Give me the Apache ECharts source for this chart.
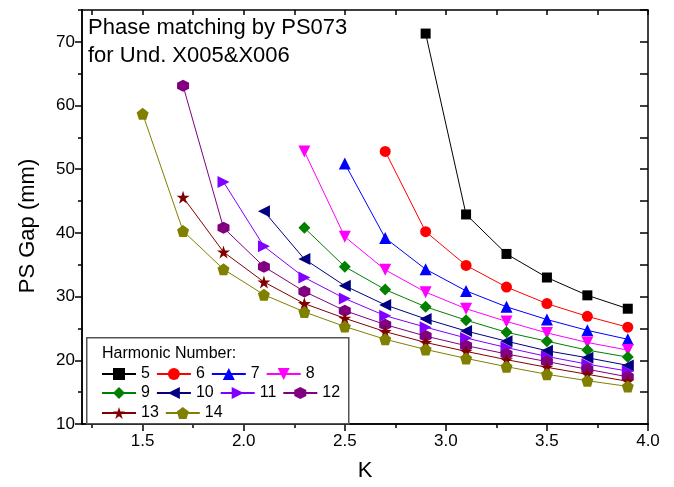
<!DOCTYPE html>
<html>
<head>
<meta charset="utf-8">
<script src="https://cdn.jsdelivr.net/npm/echarts@6/dist/echarts.min.js"></script>
<style>html,body{margin:0;padding:0;background:#fff}#c{width:674px;height:487px}</style>
</head>
<body>
<div id="c"></div>
<script>
// ---- data ----
const kValues = [1.5, 1.7, 1.9, 2.1, 2.3, 2.5, 2.7, 2.9, 3.1, 3.3, 3.5, 3.7, 3.9];
const harmonics = ['5', '6', '7', '8', '9', '10', '11', '12', '13', '14'];
// each series ends at K = 3.9; values listed from its first K
const gap5  = [71.3, 42.9, 36.7, 33.0, 30.2, 28.1];
const gap6  = [52.8, 40.2, 34.9, 31.5, 28.9, 26.9, 25.2];
const gap7  = [50.9, 39.2, 34.3, 30.9, 28.4, 26.4, 24.7, 23.3];
const gap8  = [52.8, 39.4, 34.2, 30.7, 28.1, 26.1, 24.3, 22.8, 21.6];
const gap9  = [40.8, 34.7, 31.1, 28.4, 26.3, 24.4, 23.0, 21.6, 20.5];
const gap10 = [43.4, 35.9, 31.7, 28.7, 26.5, 24.6, 23.0, 21.5, 20.4, 19.2];
const gap11 = [48.0, 37.9, 33.0, 29.7, 27.0, 25.2, 23.5, 22.0, 20.6, 19.4, 18.3];
const gap12 = [63.1, 40.8, 34.7, 30.8, 27.8, 25.6, 23.8, 22.3, 21.0, 19.8, 18.6, 17.4];
const gap13 = [45.6, 37.0, 32.3, 28.9, 26.6, 24.5, 22.8, 21.4, 20.1, 18.9, 17.8, 16.7];
const gap14 = [58.7, 40.3, 34.3, 30.3, 27.6, 25.3, 23.3, 21.7, 20.3, 19.0, 17.8, 16.8, 15.9];
const gapSeries = [gap5, gap6, gap7, gap8, gap9, gap10, gap11, gap12, gap13, gap14];
const xMajorTicks = [1.5, 2.0, 2.5, 3.0, 3.5, 4.0];
const xMinorTicks = [1.25, 1.75, 2.25, 2.75, 3.25, 3.75];
const yMajorTicks = [10, 20, 30, 40, 50, 60, 70];
const yMinorTicks = [15, 25, 35, 45, 55, 65, 75];

// ---- styles ----
const colors = ['#000000', '#ff0000', '#0000ff', '#ff00ff', '#008000', '#000080', '#8000ff', '#800080', '#800000', '#808000'];
const star = 'path://M0,-1 L0.2245,-0.309 L0.951,-0.309 L0.363,0.118 L0.588,0.809 L0,0.382 L-0.588,0.809 L-0.363,0.118 L-0.951,-0.309 L-0.2245,-0.309 Z';
const pent = 'path://M0,-1 L0.951,-0.309 L0.588,0.809 L-0.588,0.809 L-0.951,-0.309 Z';
const hexa = 'path://M0,-1 L0.866,-0.5 L0.866,0.5 L0,1 L-0.866,0.5 L-0.866,-0.5 Z';
const diam = 'path://M0,-1 L1,0 L0,1 L-1,0 Z';
const symbols = ['rect', 'circle', 'triangle', 'triangle', diam, 'triangle', 'triangle', hexa, star, pent];
const rotates = [0, 0, 0, 180, 0, 90, -90, 0, 0, 0];
const sizes = [10, 11, 12, 12, 12, 12, 12, 12, 13, 12];

const FONT = 'Liberation Sans, Arial, sans-serif';
const XMIN = 1.2, XMAX = 4.0, YMIN = 10, YMAX = 75;

const series = gapSeries.map((arr, i) => {
  const ks = kValues.slice(kValues.length - arr.length);
  return {
    name: harmonics[i],
    type: 'line',
    xAxisIndex: 0, yAxisIndex: 0,
    data: ks.map((k, j) => [k, arr[j]]),
    symbol: symbols[i],
    symbolRotate: rotates[i],
    symbolSize: sizes[i],
    showAllSymbol: true,
    lineStyle: {color: colors[i], width: 1},
    itemStyle: {color: colors[i]},
    z: 2 + i,
    animation: false
  };
});

function baseX(extra) {
  return Object.assign({
    type: 'value', min: XMIN, max: XMAX, gridIndex: 0,
    splitLine: {show: false},
    axisLine: {show: true, onZero: false, lineStyle: {color: '#000', width: 1.5}},
    axisLabel: {show: false},
    axisTick: {show: false}
  }, extra);
}
function baseY(extra) {
  return Object.assign({
    type: 'value', min: YMIN, max: YMAX, gridIndex: 0,
    splitLine: {show: false},
    axisLine: {show: true, onZero: false, lineStyle: {color: '#000', width: 1.5}},
    axisLabel: {show: false},
    axisTick: {show: false}
  }, extra);
}

const option = {
  animation: false,
  backgroundColor: '#fff',
  grid: {left: 82, right: 26, top: 10, bottom: 61, containLabel: false},
  xAxis: [
    baseX({position: 'bottom', name: 'K', nameLocation: 'middle', nameGap: 36,
      nameTextStyle: {fontFamily: FONT, fontSize: 22, color: '#000'},
      axisTick: {show: true, inside: false, length: 7, customValues: xMajorTicks, lineStyle: {color: '#000', width: 1.5}},
      axisLabel: {show: true, customValues: xMajorTicks, margin: 9, fontFamily: FONT, fontSize: 17, color: '#000',
        formatter: v => v.toFixed(1)}}),
    baseX({position: 'bottom',
      axisTick: {show: true, inside: false, length: 4, customValues: xMinorTicks, lineStyle: {color: '#000', width: 1.5}}}),
    baseX({position: 'top',
      axisTick: {show: true, inside: true, length: 5, customValues: xMajorTicks.concat(xMinorTicks), lineStyle: {color: '#000', width: 1.5}}})
  ],
  yAxis: [
    baseY({position: 'left', name: 'PS Gap (mm)', nameLocation: 'middle', nameGap: 43, nameRotate: 90,
      nameTextStyle: {fontFamily: FONT, fontSize: 22, color: '#000', padding: [0, 18, 0, 0]},
      axisTick: {show: true, inside: false, length: 7, customValues: yMajorTicks, lineStyle: {color: '#000', width: 1.5}},
      axisLabel: {show: true, customValues: yMajorTicks, margin: 7, fontFamily: FONT, fontSize: 17, color: '#000'}}),
    baseY({position: 'left',
      axisTick: {show: true, inside: false, length: 4, customValues: yMinorTicks, lineStyle: {color: '#000', width: 1.5}}}),
    baseY({position: 'right',
      axisTick: {show: true, inside: true, length: 8, customValues: yMajorTicks.concat(yMinorTicks), lineStyle: {color: '#000', width: 1.5}}})
  ],
  legend: [
    {data: harmonics.slice(0, 4), left: 101, top: 366},
    {data: harmonics.slice(4, 8), left: 101, top: 385},
    {data: harmonics.slice(8, 10), left: 101, top: 405}
  ].map(l => Object.assign(l, {
    orient: 'horizontal', itemWidth: 34, itemHeight: 15, itemGap: 6, padding: 0,
    textStyle: {fontFamily: FONT, fontSize: 16, color: '#000'},
    selectedMode: false, z: 20
  })),
  graphic: [
    {type: 'rect', left: 86, top: 337, z: 10,
      shape: {width: 262, height: 86},
      style: {fill: '#fff', stroke: '#555', lineWidth: 1.5}},
    {type: 'text', left: 102, top: 346, z: 11,
      style: {text: 'Harmonic Number:', font: '16px ' + FONT, fill: '#000'}},
    {type: 'text', left: 88, top: 14, z: 11,
      style: {text: 'Phase matching by PS073\nfor Und. X005&X006', font: '22px ' + FONT, lineHeight: 28, fill: '#000'}}
  ],
  series: series
};

const chart = echarts.init(document.getElementById('c'), null, {renderer: 'canvas'});
chart.setOption(option);
</script>
</body>
</html>
